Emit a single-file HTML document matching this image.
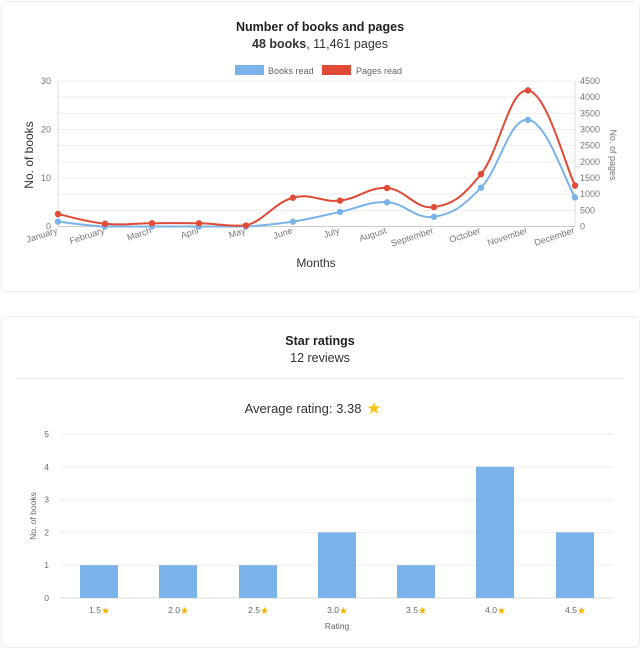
<!DOCTYPE html>
<html><head><meta charset="utf-8"><style>
body{margin:0;background:#fff;width:640px;height:634px;overflow:hidden;font-family:"Liberation Sans",sans-serif;}
.card{position:absolute;left:1px;width:637px;border:1px solid #eceef0;border-radius:5px;background:#fff;box-shadow:0 1px 2px rgba(0,0,0,.04);}
svg{position:absolute;left:0;top:0}
</style></head><body>
<div class="card" style="top:1px;height:289px"></div>
<div class="card" style="top:316px;height:330px"></div>
<svg width="640" height="634" id="s" font-family="Liberation Sans, sans-serif">
<text x="320" y="31" text-anchor="middle" font-size="12.5" font-weight="bold" fill="#222">Number of books and pages</text>
<text x="320" y="48" text-anchor="middle" font-size="12.5" fill="#333"><tspan font-weight="bold">48 books</tspan>, 11,461 pages</text>
<rect x="235" y="65" width="29" height="10" fill="#7ab3ea"/>
<text x="268" y="74" font-size="9" fill="#666">Books read</text>
<rect x="322" y="65" width="29" height="10" fill="#e04a36"/>
<text x="356" y="74" font-size="9" fill="#666">Pages read</text>
<g id="g1"></g>
<text x="33" y="155" font-size="12" fill="#333" text-anchor="middle" transform="rotate(-90 33 155)">No. of books</text>
<text x="610" y="155" font-size="9" fill="#777" text-anchor="middle" transform="rotate(90 610 155)">No. of pages</text>
<text x="316" y="267" text-anchor="middle" font-size="12" fill="#333">Months</text>

<text x="320" y="345" text-anchor="middle" font-size="12.5" font-weight="bold" fill="#222">Star ratings</text>
<text x="320" y="362" text-anchor="middle" font-size="12.5" fill="#333">12 reviews</text>
<line x1="17" y1="378.5" x2="623" y2="378.5" stroke="#e6e6e6"/>
<text x="303" y="413" text-anchor="middle" font-size="13" fill="#333">Average rating: 3.38</text>
<text x="374" y="414" text-anchor="middle" font-size="17" fill="#f5c518">★</text>
<g id="g2"></g>
<text x="36" y="516" font-size="8.5" fill="#666" text-anchor="middle" transform="rotate(-90 36 516)">No. of books</text>
<text x="337" y="629" text-anchor="middle" font-size="8.5" fill="#666">Rating</text>
</svg>
<script>
var NS="http://www.w3.org/2000/svg";
function el(p,t,a,txt){var e=document.createElementNS(NS,t);for(var k in a)e.setAttribute(k,a[k]);if(txt!=null)e.textContent=txt;p.appendChild(e);return e;}
var g1=document.getElementById("g1");
var L=58,R=575,T=81,B=226.5;
for(var i=0;i<=9;i++){var y=T+(B-T)*i/9;el(g1,"line",{x1:L,x2:R,y1:y,y2:y,stroke:i==9?"#ccc":"#ececec"});}
el(g1,"line",{x1:L,x2:L,y1:T,y2:B,stroke:"#ddd"});
el(g1,"line",{x1:R,x2:R,y1:T,y2:B,stroke:"#ddd"});
[0,10,20,30].forEach(function(v){var y=B-(B-T)*v/30;el(g1,"text",{x:51,y:y+3,"text-anchor":"end","font-size":9,fill:"#777"},v);});
for(var v=0;v<=4500;v+=500){var y=B-(B-T)*v/4500;el(g1,"text",{x:580,y:y+3,"font-size":9,fill:"#777"},v);}
var months=["January","February","March","April","May","June","July","August","September","October","November","December"];
var dx=(R-L)/11;
months.forEach(function(m,i){var x=L+i*dx;el(g1,"text",{x:x,y:233,"text-anchor":"end","font-size":9,fill:"#777",transform:"rotate(-18 "+x+" 233)"},m);});
var books=[1,0,0,0,0,1,3,5,2,8,22,6],pages=[385,85,100,100,30,890,800,1190,600,1620,4210,1265];
function path(pts){var d="M"+pts[0][0]+","+pts[0][1];var t=0.4;
for(var i=0;i<pts.length-1;i++){var p0=pts[i-1]||pts[i],p1=pts[i],p2=pts[i+1],p3=pts[i+2]||p2;
var c1=[p1[0]+(p2[0]-p0[0])*t/2,p1[1]+(p2[1]-p0[1])*t/2],c2=[p2[0]-(p3[0]-p1[0])*t/2,p2[1]-(p3[1]-p1[1])*t/2];
c1[1]=Math.min(c1[1],B);c2[1]=Math.min(c2[1],B);
d+=" C"+c1+" "+c2+" "+p2;}return d;}
function series(data,max,col){var pts=data.map(function(v,i){return [L+i*dx,B-(B-T)*v/max];});
el(g1,"path",{d:path(pts),fill:"none",stroke:col,"stroke-width":2});
pts.forEach(function(p){el(g1,"circle",{cx:p[0],cy:p[1],r:3.2,fill:col});});}
series(books,30,"#7ab3ea");series(pages,4500,"#e04a36");
var g2=document.getElementById("g2");
var L2=60,R2=614,T2=434,B2=598;
for(var i=0;i<=5;i++){var y=T2+(B2-T2)*i/5;el(g2,"line",{x1:L2,x2:R2,y1:y,y2:y,stroke:i==5?"#ddd":"#eeeeee"});
el(g2,"text",{x:49,y:y+3,"text-anchor":"end","font-size":8.5,fill:"#666"},5-i);}
var cs=[99,178,258,337,416,495,575],vals=[1,1,1,2,1,4,2],labs=["1.5","2.0","2.5","3.0","3.5","4.0","4.5"];
cs.forEach(function(c,i){var h=(B2-T2)*vals[i]/5;el(g2,"rect",{x:c-19,y:B2-h,width:38,height:h,fill:"#7ab3ea"});
el(g2,"text",{x:c+2,y:613,"text-anchor":"end","font-size":8.5,fill:"#666"},labs[i]);
el(g2,"text",{x:c+2,y:614,"font-size":10,fill:"#f0b400"},"★");});
</script>
</body></html>
